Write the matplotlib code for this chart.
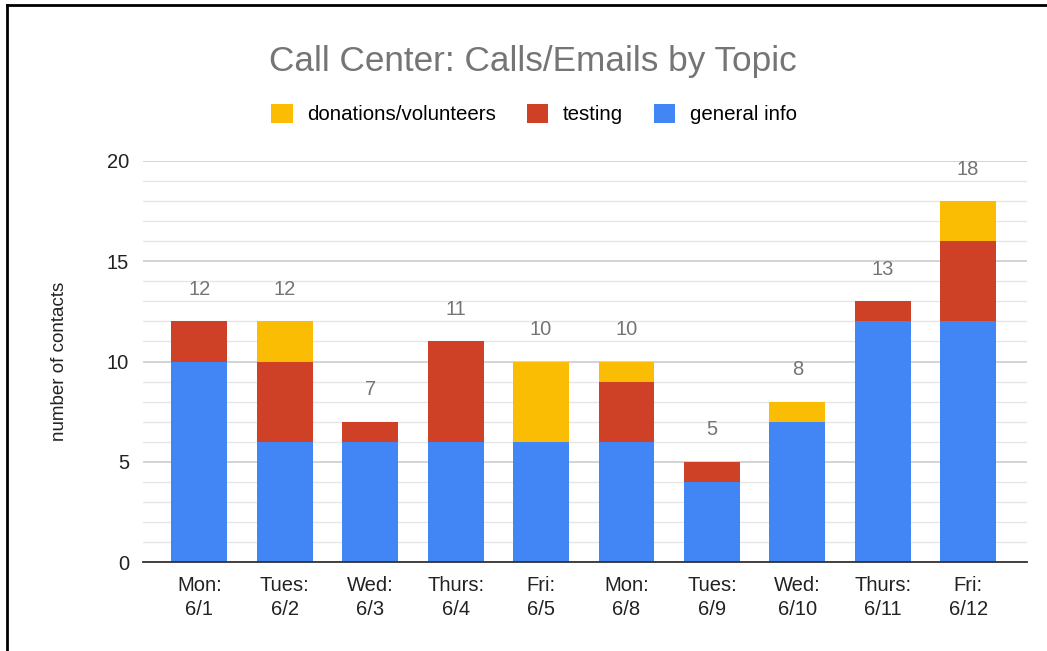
import matplotlib.pyplot as plt
from matplotlib.patches import Patch
from matplotlib.lines import Line2D
import numpy as np

plt.rcParams['font.family'] = ['Liberation Sans', 'DejaVu Sans']

days = ['Mon:\n6/1', 'Tues:\n6/2', 'Wed:\n6/3', 'Thurs:\n6/4', 'Fri:\n6/5',
        'Mon:\n6/8', 'Tues:\n6/9', 'Wed:\n6/10', 'Thurs:\n6/11', 'Fri:\n6/12']
general_info = [10, 6, 6, 6, 6, 6, 4, 7, 12, 12]
testing = [2, 4, 1, 5, 0, 3, 1, 0, 1, 4]
donations = [0, 2, 0, 0, 4, 1, 0, 1, 0, 2]

blue = '#4285F4'
red = '#CF4126'
yellow = '#FBBC04'

fig = plt.figure(figsize=(10.47, 6.51), dpi=100)
ax = fig.add_axes([0.1366, 0.1367, 0.8444, 0.616])

x = np.arange(len(days))
g = np.array(general_info)
t = np.array(testing)
d = np.array(donations)
w = 0.655
ax.bar(x, g, w, color=blue, zorder=3)
ax.bar(x, t, w, bottom=g, color=red, zorder=3)
ax.bar(x, d, w, bottom=g + t, color=yellow, zorder=3)

totals = g + t + d
for xi, tot in zip(x, totals):
    ax.text(xi, tot + 1.6, str(tot), ha='center', va='center',
            fontsize=14.5, color='#757575', zorder=4)

ax.set_xlim(-0.66, 9.69)
ax.set_ylim(0, 20)
ax.set_yticks([0, 5, 10, 15, 20])
ax.set_yticks(np.arange(0, 21, 1), minor=True)
ax.grid(axis='y', which='major', color='#c8c8c8', linewidth=1.1, zorder=0)
ax.grid(axis='y', which='minor', color='#e6e6e6', linewidth=1.0, zorder=0)
ax.set_xticks(x)
ax.set_xticklabels(days, fontsize=14.5, linespacing=1.35)
ax.tick_params(axis='both', which='both', length=0, labelsize=14.5,
               colors='#222222')
ax.tick_params(axis='x', pad=10)
ax.tick_params(axis='y', pad=10)
for s in ['top', 'right', 'left']:
    ax.spines[s].set_visible(False)
ax.spines['bottom'].set_color('#333333')
ax.spines['bottom'].set_linewidth(1.3)
ax.spines['bottom'].set_zorder(5)
ax.set_ylabel('number of contacts', fontsize=13.5, color='#222222',
              labelpad=28)

fig.text(0.509, 0.906, 'Call Center: Calls/Emails by Topic', ha='center',
         va='center', fontsize=25.3, color='#757575')

handles = [Patch(facecolor=yellow, label='donations/volunteers'),
           Patch(facecolor=red, label='testing'),
           Patch(facecolor=blue, label='general info')]
fig.legend(handles=handles, loc='center', bbox_to_anchor=(0.51, 0.825),
           ncol=3, frameon=False, fontsize=14.8, handlelength=1.05,
           handleheight=1.05, handletextpad=0.7, columnspacing=1.5)

# border of the screenshot
fig.add_artist(Line2D([0.0067, 0.0067], [0, 0.9925], color='black', lw=2,
                      transform=fig.transFigure))
fig.add_artist(Line2D([0.0067, 1.0], [0.9925, 0.9925], color='black', lw=2,
                      transform=fig.transFigure))

fig.savefig('out.png', dpi=100)
